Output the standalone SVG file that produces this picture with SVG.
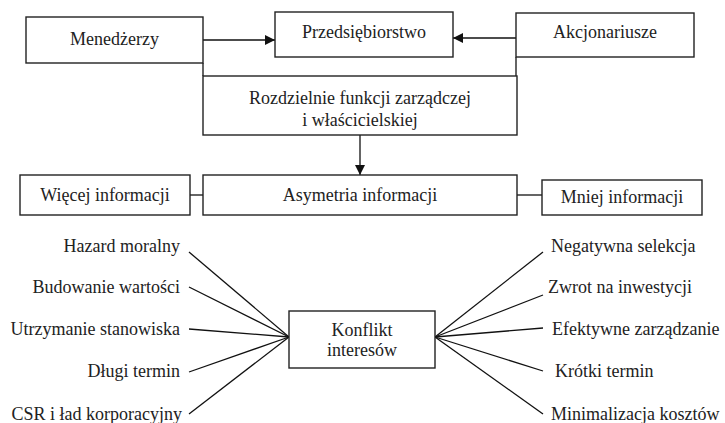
<svg xmlns="http://www.w3.org/2000/svg" width="725" height="423" viewBox="0 0 725 423">
<style>
.box{fill:#fff;stroke:#222;stroke-width:1.4}
.ln{stroke:#111;stroke-width:1.3;fill:none}
text{font-family:"Liberation Serif","Times New Roman",serif;font-size:18px;fill:#222}
.c{text-anchor:middle}
.r{text-anchor:end}
</style>
<defs>
<marker id="ah" viewBox="0 0 10 10" refX="10" refY="5" markerWidth="10" markerHeight="10" markerUnits="userSpaceOnUse" orient="auto">
<path d="M0,0 L10,5 L0,10 z" fill="#111"/>
</marker>
</defs>
<rect width="725" height="423" fill="#fff"/>
<g id="connectors">
<line class="ln" x1="203" y1="40" x2="275" y2="40" marker-end="url(#ah)"/>
<line class="ln" x1="516" y1="38" x2="453" y2="38" marker-end="url(#ah)"/>
<line class="ln" x1="203" y1="63" x2="203" y2="76"/>
<line class="ln" x1="516" y1="57" x2="516" y2="76"/>
<line class="ln" x1="360" y1="135" x2="360" y2="175" marker-end="url(#ah)"/>
<line class="ln" x1="190" y1="195" x2="203" y2="195"/>
<line class="ln" x1="517" y1="195" x2="542" y2="195"/>
<line class="ln" x1="189" y1="252" x2="289" y2="337"/>
<line class="ln" x1="189" y1="287" x2="289" y2="337"/>
<line class="ln" x1="189" y1="329" x2="289" y2="337"/>
<line class="ln" x1="189" y1="372" x2="289" y2="337"/>
<line class="ln" x1="189" y1="414" x2="289" y2="337"/>
<line class="ln" x1="435" y1="337" x2="543" y2="252"/>
<line class="ln" x1="435" y1="337" x2="543" y2="295"/>
<line class="ln" x1="435" y1="337" x2="543" y2="328"/>
<line class="ln" x1="435" y1="337" x2="543" y2="371"/>
<line class="ln" x1="435" y1="337" x2="543" y2="414"/>
</g>
<g id="menedzerzy"><rect class="box" x="26" y="17" width="177" height="46"/><text class="c" x="114.5" y="45">Menedżerzy</text></g>
<g id="przedsiebiorstwo"><rect class="box" x="275" y="12" width="178" height="45"/><text class="c" x="364" y="38">Przedsiębiorstwo</text></g>
<g id="akcjonariusze"><rect class="box" x="516" y="13" width="178" height="44"/><text class="c" x="605" y="38">Akcjonariusze</text></g>
<g id="rozdzielnie"><rect class="box" x="203" y="76" width="314" height="59"/><text class="c" x="360" y="104">Rozdzielnie funkcji zarządczej</text><text class="c" x="360" y="126">i właścicielskiej</text></g>
<g id="asymetria"><rect class="box" x="203" y="175" width="314" height="40"/><text class="c" x="360" y="201">Asymetria informacji</text></g>
<g id="wiecej"><rect class="box" x="20" y="175" width="170" height="40"/><text class="c" x="105" y="201">Więcej informacji</text></g>
<g id="mniej"><rect class="box" x="542" y="180" width="160" height="35"/><text class="c" x="622" y="203">Mniej informacji</text></g>
<g id="konflikt"><rect class="box" x="289" y="311" width="146" height="57"/><text class="c" x="362" y="336">Konflikt</text><text class="c" x="362" y="356">interesów</text></g>
<g id="left-labels">
<text class="r" x="180" y="252">Hazard moralny</text>
<text class="r" x="180" y="293">Budowanie wartości </text>
<text class="r" x="180" y="335">Utrzymanie stanowiska</text>
<text class="r" x="180" y="377">Długi termin</text>
<text class="r" x="182" y="420">CSR i ład korporacyjny</text>
</g>
<g id="right-labels">
<text x="551" y="252">Negatywna selekcja</text>
<text x="548" y="293">Zwrot na inwestycji</text>
<text x="552" y="335">Efektywne zarządzanie</text>
<text x="555" y="377">Krótki termin</text>
<text x="551" y="420">Minimalizacja kosztów</text>
</g>
</svg>
